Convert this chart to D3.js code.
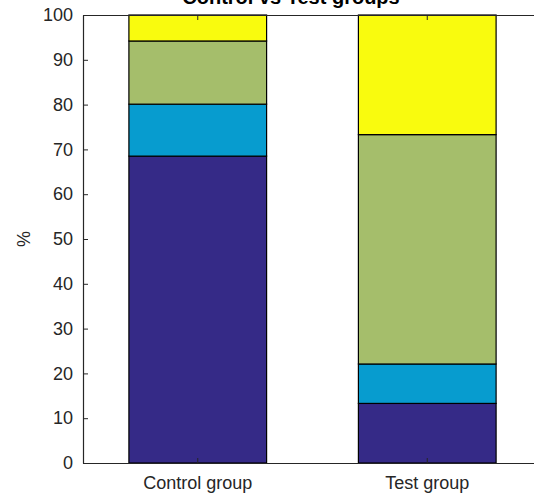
<!DOCTYPE html>
<html>
<head>
<meta charset="utf-8">
<script src="https://cdn.jsdelivr.net/npm/d3@7"></script>
<style>
	body { margin: 0; background: #fff; }
	svg { display: block; font-family: 'Liberation Sans', Arial, sans-serif; }
	.axis path, .axis line { stroke: #262626; }
	.axis text { fill: #262626; font-size: 18px; font-family: 'Liberation Sans', Arial, sans-serif; }
</style>
</head>
<body>
<div id="chart"></div>
<script>
// data
const groups = [ 'Control group', 'Test group' ];
const segmentKeys = [ 'a', 'b', 'c', 'd' ];
const segA = [ 68.5, 13.3 ];
const segB = [ 11.6, 8.8 ];
const segC = [ 14.1, 51.2 ];
const segD = [ 5.8, 26.7 ];
const yTicks = [ 0, 10, 20, 30, 40, 50, 60, 70, 80, 90, 100 ];
const colors = [ '#352a87', '#079ccf', '#a5be6b', '#f9fb0e' ];

let dimensions = {
	width  : 534,
	height : 495,
	margin : {
		top    : 15,
		right  : -8,
		bottom : 32,
		left   : 83
	}
};
dimensions.boundedWidth = dimensions.width - dimensions.margin.left - dimensions.margin.right;
dimensions.boundedHeight = dimensions.height - dimensions.margin.top - dimensions.margin.bottom;

const table = groups.map(function(g, i) {
	return { group: g, a: segA[i], b: segB[i], c: segC[i], d: segD[i] };
});

const svg = d3.select('#chart').append('svg').attr('width', dimensions.width).attr('height', dimensions.height);

const bounds = svg.append('g').attr('transform', `translate(${dimensions.margin.left}, ${dimensions.margin.top})`);

const x = d3.scaleBand().domain(groups).range([ 0, dimensions.boundedWidth ]).paddingInner(0.4).paddingOuter(0.2);
const y = d3.scaleLinear().domain([ 0, 100 ]).range([ dimensions.boundedHeight, 0 ]);

const stacked = d3.stack().keys(segmentKeys)(table);

bounds
	.selectAll('g.layer')
	.data(stacked)
	.enter()
	.append('g')
	.attr('class', 'layer')
	.attr('fill', function(d, i) {
		return colors[i];
	})
	.selectAll('rect')
	.data(function(d) {
		return d;
	})
	.enter()
	.append('rect')
	.attr('x', function(d) {
		return x(d.data.group);
	})
	.attr('width', x.bandwidth())
	.attr('y', function(d) {
		return y(d[1]);
	})
	.attr('height', function(d) {
		return y(d[0]) - y(d[1]);
	})
	.attr('stroke', '#000')
	.attr('stroke-width', 1.2);

// axes (ticks point inward like matlab)
const yAxis = d3.axisLeft(y).tickValues(yTicks).tickSizeInner(-5).tickSizeOuter(0).tickPadding(10);
bounds.append('g').attr('class', 'axis').call(yAxis);

const xAxis = d3.axisBottom(x).tickSizeInner(-5).tickSizeOuter(0).tickPadding(13);
bounds.append('g').attr('class', 'axis').attr('transform', 'translate(0,' + dimensions.boundedHeight + ')').call(xAxis);

const xTop = d3.axisTop(x).tickSizeInner(-5).tickSizeOuter(0).tickFormat('');
bounds.append('g').attr('class', 'axis').call(xTop);

bounds.selectAll('.axis .domain').attr('stroke-width', 1.2);

// y label
svg
	.append('text')
	.attr('transform', 'translate(30,' + (dimensions.margin.top + dimensions.boundedHeight / 2) + ') rotate(-90)')
	.attr('text-anchor', 'middle')
	.attr('fill', '#262626')
	.attr('font-size', '18px')
	.text('%');

// title (cut off at the top in the original)
svg
	.append('text')
	.attr('x', 291)
	.attr('y', 4)
	.attr('text-anchor', 'middle')
	.attr('fill', '#000')
	.attr('font-size', '20px')
	.attr('font-weight', 'bold')
	.text('Control vs Test groups');
</script>
</body>
</html>
